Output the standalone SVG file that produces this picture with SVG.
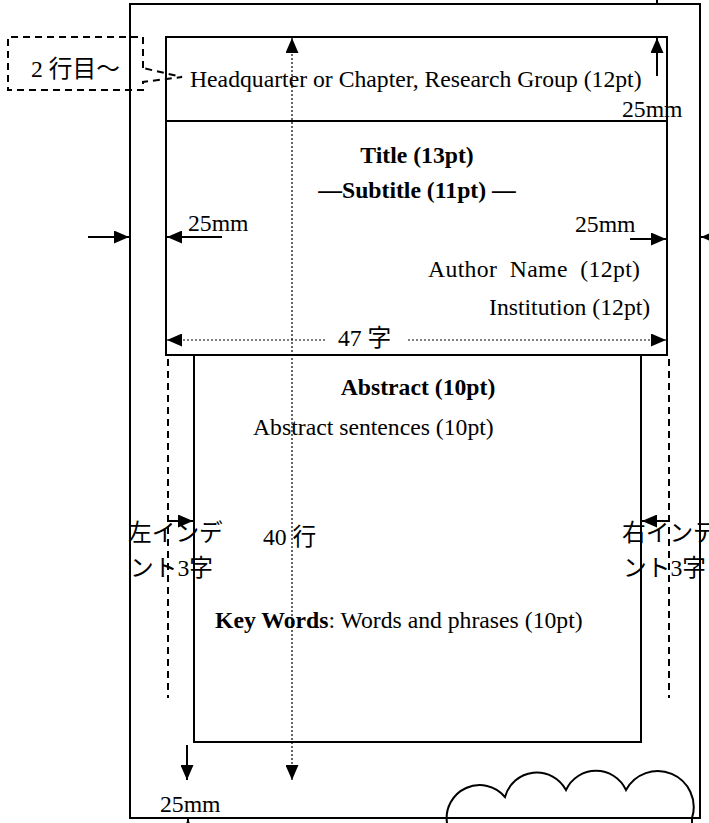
<svg xmlns="http://www.w3.org/2000/svg" width="709" height="823" viewBox="0 0 709 823">
<style>
.t{font-family:"Liberation Serif","Noto Sans CJK JP",serif;font-size:23.7px;fill:#000}
.b{font-weight:bold}
.frame{fill:none;stroke:#000;stroke-width:2}
.dot{fill:none;stroke:#000;stroke-width:1.2;stroke-dasharray:2 2}
.dash{fill:none;stroke:#000;stroke-width:2;stroke-dasharray:7 5}
.sol{fill:none;stroke:#000;stroke-width:2}
</style>
<defs>
<marker id="ah" viewBox="0 0 15 13" refX="15" refY="6.5" markerWidth="15" markerHeight="13" markerUnits="userSpaceOnUse" orient="auto-start-reverse">
<path d="M0,0 L15,6.5 L0,13 z" fill="#000"/>
</marker>
</defs>
<rect width="709" height="823" fill="#fff"/>

<g id="page">
<rect class="frame" x="130" y="4" width="570" height="814"/>
</g>

<g id="header-box">
<rect class="frame" x="166" y="37" width="501" height="318"/>
<line class="sol" x1="166" y1="121" x2="667" y2="121"/>
<text class="t" x="190" y="87">Headquarter or Chapter, Research Group (12pt)</text>
<text class="t b" x="417" y="163" text-anchor="middle">Title (13pt)</text>
<text class="t b" x="417" y="198" text-anchor="middle">—Subtitle (11pt) —</text>
<text class="t" x="428" y="277" xml:space="preserve" textLength="212">Author  Name  (12pt)</text>
<text class="t" x="489" y="315">Institution (12pt)</text>
</g>

<g id="abstract-box">
<rect class="frame" x="194" y="355" width="447" height="387"/>
<text class="t b" x="418" y="395" text-anchor="middle">Abstract (10pt)</text>
<text class="t" x="253" y="435">Abstract sentences (10pt)</text>
<text class="t" x="215" y="628"><tspan class="b">Key Words</tspan>: Words and phrases (10pt)</text>
</g>

<g id="callout">
<path class="dash" stroke-width="1.6" fill="#fff" d="M143,68 L143,37 L8,37 L8,90 L143,90 L143,82 L182,77 Z"/>
<text class="t" x="31" y="77">2 行目〜</text>
</g>

<g id="cloud">
<path class="sol" fill="#fff" d="M447,830 L447,823 A33,33 0 0 1 505,797 A33,33 0 0 1 566,790 A33,33 0 0 1 626,790 A36,36 0 0 1 692,818 L692,830 Z"/>
</g>

<g id="connectors">
<line class="sol" x1="657" y1="0" x2="657" y2="4"/>
<line class="sol" x1="657" y1="76" x2="657" y2="38" marker-end="url(#ah)"/>
<line class="sol" x1="88" y1="237" x2="129" y2="237" marker-end="url(#ah)"/>
<line class="sol" x1="222" y1="237" x2="167" y2="237" marker-end="url(#ah)"/>
<line class="sol" x1="630" y1="239" x2="666" y2="239" marker-end="url(#ah)"/>
<line class="sol" x1="725" y1="237" x2="701" y2="237" marker-end="url(#ah)"/>
<line class="dot" x1="167" y1="340" x2="326" y2="340" marker-start="url(#ah)"/>
<line class="dot" x1="408" y1="340" x2="666" y2="340" marker-end="url(#ah)"/>
<line class="dot" x1="292" y1="38" x2="292" y2="780" marker-start="url(#ah)" marker-end="url(#ah)"/>
<line class="dash" x1="168" y1="359" x2="168" y2="698"/>
<line class="dash" x1="669" y1="359" x2="669" y2="698"/>
<line class="sol" x1="168" y1="521" x2="193" y2="521" marker-end="url(#ah)"/>
<line class="sol" x1="669" y1="521" x2="642" y2="521" marker-end="url(#ah)"/>
<line class="sol" x1="187" y1="745" x2="187" y2="780" marker-end="url(#ah)"/>
<line class="sol" x1="188" y1="840" x2="188" y2="819" marker-end="url(#ah)"/>
</g>

<g id="labels">
<text class="t" x="622" y="117">25mm</text>
<text class="t" x="188" y="231">25mm</text>
<text class="t" x="575" y="232">25mm</text>
<text class="t" x="338" y="346">47 字</text>
<text class="t" x="263" y="545">40 行</text>
<text class="t" x="128" y="541">左インデ</text>
<text class="t" x="130" y="576">ント3字</text>
<text class="t" x="622" y="541">右インデ</text>
<text class="t" x="623" y="576">ント3字</text>
<text class="t" x="160" y="812">25mm</text>
</g>
</svg>
